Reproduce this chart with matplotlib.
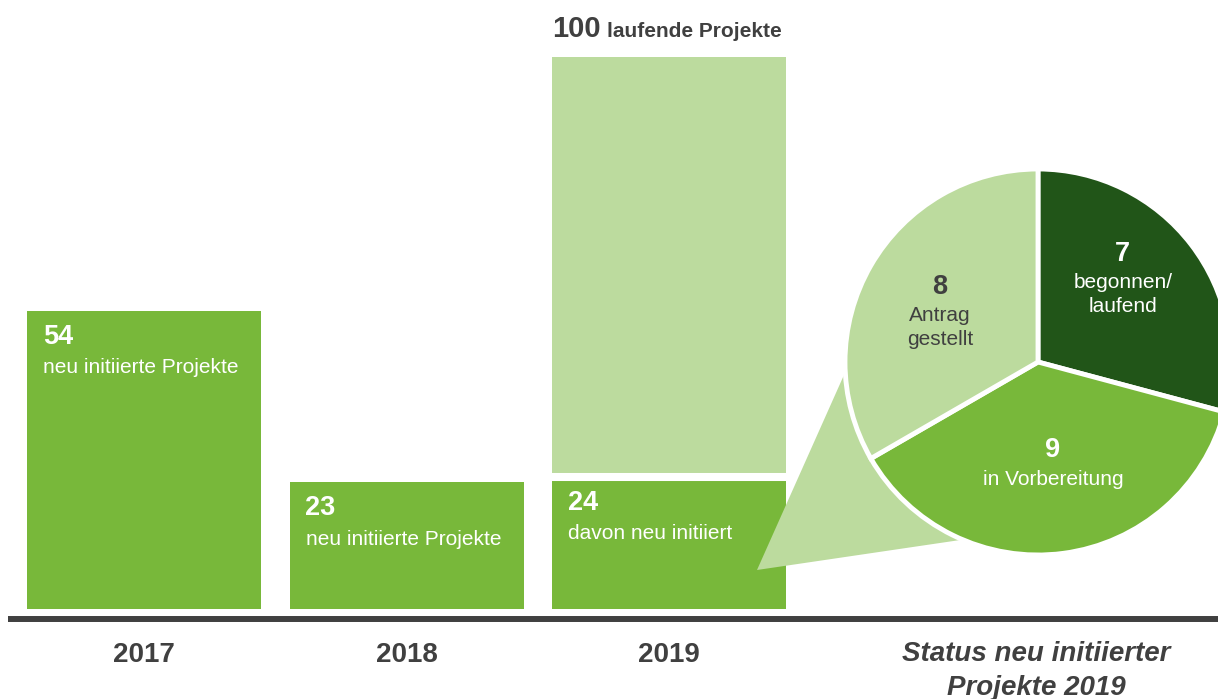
import matplotlib
matplotlib.use("Agg")
import matplotlib.pyplot as plt
import matplotlib.transforms as mtransforms
from matplotlib.patches import Polygon
import numpy as np

# data
years = ["2017", "2018", "2019"]
new_projects = [54, 23, 24]
bar_labels = ["neu initiierte Projekte", "neu initiierte Projekte", "davon neu initiiert"]
running_2019 = 100
running_label = "laufende Projekte"
status_values = [7, 9, 8]
status_labels = ["begonnen/\nlaufend", "in Vorbereitung", "Antrag\ngestellt"]
pie_title = "Status neu initiierter\nProjekte 2019"

GREEN = "#78B83A"
LIGHT = "#BCDB9E"
DARK = "#215518"
GREY = "#404040"

plt.rcParams["font.family"] = ["Liberation Sans", "DejaVu Sans"]

W, H = 1218, 699
BASE_PX = 609        # pixel row of y = 0
PX_PER_UNIT = 5.52
BAR_W = 234


def py(row):
    return (BASE_PX - row) / PX_PER_UNIT


fig = plt.figure(figsize=(W / 100, H / 100), dpi=100)
ax = fig.add_axes([0, 0, 1, 1])
ax.set_xlim(0, W)
ax.set_ylim(-(H - BASE_PX) / PX_PER_UNIT, BASE_PX / PX_PER_UNIT)
ax.axis("off")


def off(dx, dy):
    return mtransforms.offset_copy(ax.transData, fig=fig, x=dx, y=dy, units="dots")


xc = 144 + 262.5 * np.arange(len(years))
ax.bar(xc, new_projects, width=BAR_W, color=GREEN, zorder=2)
ax.bar(xc[2], running_2019 - new_projects[2], bottom=new_projects[2],
       width=BAR_W, color=LIGHT, zorder=2)
ax.hlines(new_projects[2], xc[2] - BAR_W / 2 - 2, xc[2] + BAR_W / 2 + 2,
          color="white", lw=5.8, zorder=3)
ax.hlines(py(619), 8, W, color=GREY, lw=4.3, zorder=3)

for x, v, lab in zip(xc, new_projects, bar_labels):
    left = x - BAR_W / 2 + 16
    ax.text(left, v, str(v), transform=off(0, -26), va="center", ha="left",
            fontsize=19.5, fontweight="bold", color="white", zorder=4)
    ax.text(left, v, lab, transform=off(0, -57), va="center", ha="left",
            fontsize=15, color="white", zorder=4)

left19 = xc[2] - BAR_W / 2
ax.text(left19, running_2019, str(running_2019), transform=off(0, 20),
        va="baseline", ha="left", fontsize=21, fontweight="bold", color=GREY)
ax.text(left19, running_2019, running_label, transform=off(55, 20),
        va="baseline", ha="left", fontsize=15, fontweight="bold", color=GREY)

for x, y in zip(xc, years):
    ax.text(x, py(655), y, ha="center", va="center", fontsize=20,
            fontweight="bold", color=GREY)

ax.text(1036, py(671), pie_title, ha="center", va="center", fontsize=20,
        fontweight="bold", fontstyle="italic", color=GREY, linespacing=1.4)

# pie
CX, CY, R = 1038, 362, 193
ax_pie = fig.add_axes([(CX - R) / W, (H - CY - R) / H, 2 * R / W, 2 * R / H])
wedges, _ = ax_pie.pie(status_values, colors=[DARK, GREEN, LIGHT], startangle=90,
                       counterclock=False, radius=1,
                       wedgeprops=dict(edgecolor="white", linewidth=3.5))
for w in wedges:
    w.set_clip_on(False)
    w.set_zorder(2)
ax_pie.set_xlim(-1, 1)
ax_pie.set_ylim(-1, 1)
ax_pie.axis("off")

tip = ((757 - CX) / R, (CY - 570) / R)
a1, a2 = np.deg2rad(183), np.deg2rad(247)
tri = Polygon([tip, (np.cos(a1), np.sin(a1)), (0, 0), (np.cos(a2), np.sin(a2))],
              closed=True, facecolor=LIGHT, edgecolor="none", zorder=1, clip_on=False)
ax_pie.add_patch(tri)

num_pos = [(0.44, 0.56), (0.078, -0.456), (-0.508, 0.389)]
text_cols = ["white", "white", GREY]
poff = lambda dx, dy: mtransforms.offset_copy(ax_pie.transData, fig=fig, x=dx, y=dy, units="dots")
for (px, pyy), v, lab, c in zip(num_pos, status_values, status_labels, text_cols):
    ax_pie.text(px, pyy, str(v), ha="center", va="center", fontsize=19.5,
                fontweight="bold", color=c, zorder=5)
    for i, line in enumerate(lab.split("\n")):
        ax_pie.text(px, pyy, line, transform=poff(0, -29 - 23.5 * i), ha="center",
                    va="center", fontsize=15, color=c, zorder=5)

fig.savefig("out.png", dpi=100)
